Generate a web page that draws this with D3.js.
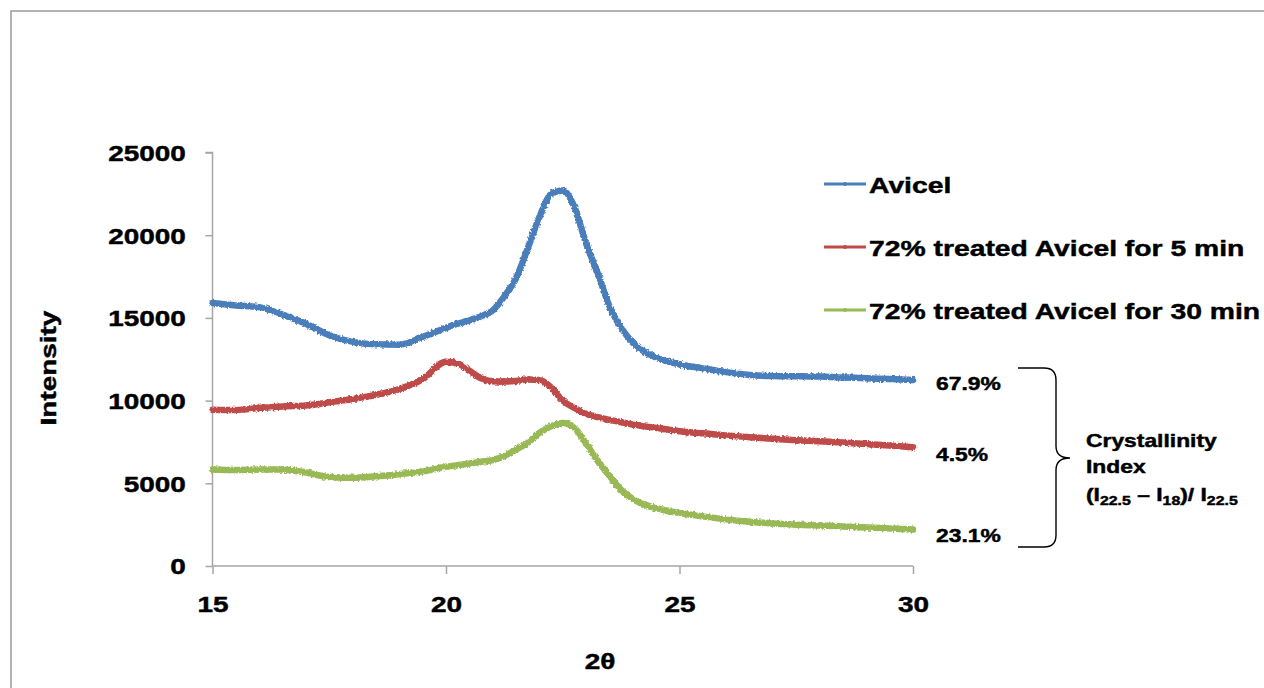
<!DOCTYPE html>
<html>
<head>
<meta charset="utf-8">
<script src="https://cdn.jsdelivr.net/npm/d3@7"></script>
<style>
  html, body { margin: 0; padding: 0; background: #fff; }
  svg { display: block; }
  text { font-family: "Liberation Sans", Arial, sans-serif; font-weight: bold; fill: #000; stroke: #000; stroke-width: 0.45px; }
</style>
</head>
<body>
<svg id="chart" width="1264" height="688"></svg>
<script>
// Diffraction angle grid (2θ, degrees)
const twoTheta = [15, 15.5, 16, 16.5, 17, 17.5, 18, 18.5, 19, 19.5, 20, 20.25, 20.5, 20.75,
  21, 21.25, 21.5, 21.75, 22, 22.25, 22.5, 22.75, 23, 23.25, 23.5, 23.75, 24, 24.5,
  25, 25.5, 26, 26.5, 27, 27.5, 28, 28.5, 29, 29.5, 30];

// Intensity series
const avicel = [15900, 15750, 15650, 15200, 14650, 13950, 13550, 13400, 13380, 13850, 14400, 14650, 14850, 15100,
  15450, 16300, 17400, 19200, 21100, 22500, 22700, 21700, 19500, 17700, 15700, 14400, 13500, 12600,
  12200, 11950, 11720, 11550, 11480, 11470, 11450, 11400, 11350, 11300, 11250];
const treated5 = [9450, 9430, 9550, 9650, 9700, 9900, 10100, 10350, 10700, 11300, 12350, 12250, 11800, 11350,
  11170, 11150, 11180, 11280, 11250, 10800, 10000, 9550, 9200, 9000, 8830, 8700, 8550, 8350,
  8150, 8020, 7890, 7790, 7690, 7610, 7540, 7460, 7380, 7280, 7180];
const treated30 = [5840, 5800, 5830, 5840, 5650, 5380, 5330, 5420, 5550, 5720, 6000, 6100, 6200, 6300,
  6400, 6650, 7050, 7450, 8050, 8450, 8650, 8350, 7400, 6350, 5450, 4600, 4050, 3500,
  3200, 3000, 2820, 2680, 2570, 2500, 2450, 2390, 2330, 2270, 2200];

const seriesNames = ["Avicel", "72% treated Avicel for 5 min", "72% treated Avicel for 30 min"];
const seriesColors = ["#4a7ebb", "#be4b48", "#98b954"];
const crystallinity = ["67.9%", "4.5%", "23.1%"];

const xTicks = [15, 20, 25, 30];
const yTicks = [0, 5000, 10000, 15000, 20000, 25000];

const svg = d3.select("#chart");
const SX = 1.27; // horizontal stretch of lettering

// frame
svg.append("path")
  .attr("d", "M11,688 L11,11 L1264,11")
  .attr("fill", "none").attr("stroke", "#9a9a9a").attr("stroke-width", 1.5);

// roughened stroke for the scan traces
const defs = svg.append("defs");
const f = defs.append("filter").attr("id", "rough")
  .attr("filterUnits", "userSpaceOnUse")
  .attr("x", 0).attr("y", 0).attr("width", 1264).attr("height", 688);
f.append("feTurbulence").attr("type", "fractalNoise").attr("baseFrequency", 0.45)
  .attr("numOctaves", 2).attr("seed", 7).attr("result", "noise");
f.append("feDisplacementMap").attr("in", "SourceGraphic").attr("in2", "noise")
  .attr("scale", 3.6).attr("xChannelSelector", "R").attr("yChannelSelector", "G");

const x = d3.scaleLinear().domain([15, 30]).range([212.5, 913]);
const y = d3.scaleLinear().domain([0, 25000]).range([566, 152.5]);

const fontStyle = t => t.style("font-family", '"Liberation Sans", Arial, sans-serif')
  .style("font-weight", "bold").style("stroke", "#000").style("stroke-width", "0.45px");

// y axis
const gy = svg.append("g").attr("transform", `translate(${x.range()[0]},0)`)
  .call(d3.axisLeft(y).tickValues(yTicks).tickFormat(d3.format("d")).tickSize(7).tickPadding(14));
gy.select(".domain").attr("stroke", "#a6a6a6").attr("stroke-width", 1.5).attr("d", `M-7,${y(25000)}H0V${y(0)}`);
gy.selectAll(".tick line").attr("stroke", "#a6a6a6").attr("stroke-width", 1.5);
gy.selectAll(".tick text").attr("font-size", 22).attr("dy", "0.36em")
  .attr("transform", `scale(${SX},1)`).call(fontStyle);

// x axis
const gx = svg.append("g").attr("transform", `translate(0,${y(0)})`)
  .call(d3.axisBottom(x).tickValues(xTicks).tickFormat(d3.format("d")).tickSize(8).tickPadding(22));
gx.select(".domain").attr("stroke", "#a6a6a6").attr("stroke-width", 1.5).attr("d", `M${x(15)},0H${x(30)}`);
gx.selectAll(".tick line").attr("stroke", "#a6a6a6").attr("stroke-width", 1.5);
gx.selectAll(".tick text").attr("font-size", 22)
  .attr("transform", `scale(${SX},1)`).call(fontStyle);

// stretched text helper
function label(g, str, px, py, size, anchor, rot) {
  return g.append("text")
    .attr("transform", `translate(${px},${py})` + (rot ? ` rotate(${rot})` : "") + ` scale(${SX},1)`)
    .attr("font-size", size).attr("text-anchor", anchor || "start").text(str);
}

// axis titles
label(svg, "Intensity", 56, 368, 22, "middle", -90);
label(svg, "2θ", 600, 669, 22, "middle");

// traces
const line = d3.line().x(d => x(d[0])).y(d => y(d[1])).curve(d3.curveMonotoneX);
const allSeries = [avicel, treated5, treated30];
const traces = svg.append("g").attr("filter", "url(#rough)");
allSeries.forEach((vals, i) => {
  traces.append("path")
    .datum(twoTheta.map((t, k) => [t, vals[k]]))
    .attr("d", line)
    .attr("fill", "none")
    .attr("stroke", seriesColors[i])
    .attr("stroke-width", 6.5)
    .attr("stroke-linecap", "round")
    .attr("stroke-linejoin", "round");
});

// legend
const legend = svg.append("g");
seriesNames.forEach((name, i) => {
  const ly = 184 + i * 63;
  legend.append("line").attr("x1", 824).attr("x2", 866).attr("y1", ly).attr("y2", ly)
    .attr("stroke", seriesColors[i]).attr("stroke-width", 3);
  legend.append("circle").attr("cx", 845).attr("cy", ly).attr("r", 2).attr("fill", seriesColors[i]);
  label(legend, name, 869, ly + 8.5, 22.3, "start");
});

// crystallinity index values at the trace ends
const ann = svg.append("g");
const annY = [389.5, 461, 542];
crystallinity.forEach((v, i) => label(ann, v, 936, annY[i], 18, "start"));

// brace grouping the three values
ann.append("path")
  .attr("d", "M1018,368 L1044,368 Q1056,368 1056,380 L1056,446 Q1056,458 1070,458 Q1056,458 1056,470 L1056,535 Q1056,547 1044,547 L1018,547")
  .attr("fill", "none").attr("stroke", "#000").attr("stroke-width", 1.4);

label(ann, "Crystallinity", 1086, 447, 18, "start");
label(ann, "Index", 1086, 473, 18, "start");

// (I22.5 – I18)/ I22.5 with subscripts
const formula = ann.append("text")
  .attr("transform", `translate(1086,501) scale(${SX},1)`)
  .attr("font-size", 18);
formula.append("tspan").text("(I");
formula.append("tspan").attr("font-size", 12.5).attr("dy", 4).text("22.5");
formula.append("tspan").attr("dy", -4).text(" – I");
formula.append("tspan").attr("font-size", 12.5).attr("dy", 4).text("18");
formula.append("tspan").attr("dy", -4).text(")/ I");
formula.append("tspan").attr("font-size", 12.5).attr("dy", 4).text("22.5");
</script>
</body>
</html>
